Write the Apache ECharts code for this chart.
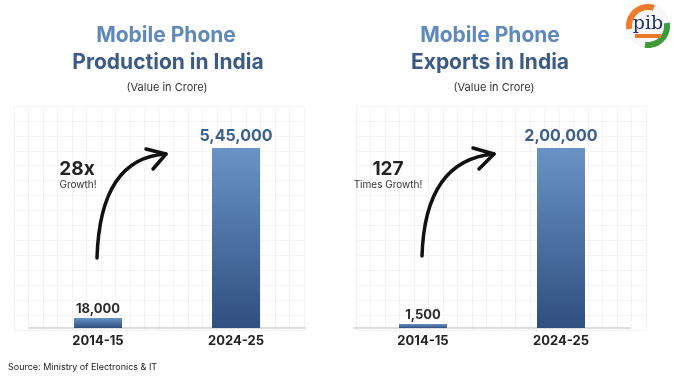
<!DOCTYPE html>
<html>
<head>
<meta charset="utf-8">
<script src="https://cdn.jsdelivr.net/npm/echarts@6/dist/echarts.min.js"></script>
<style>
  html, body { margin: 0; padding: 0; background: #fff; }
  #chart { width: 674px; height: 376px; }
</style>
</head>
<body>
<div id="chart"></div>
<script>
// data
var years = ['2014-15', '2024-25'];
var productionValues = [18000, 545000];
var exportValues = [1500, 200000];
var growthLabels = ['28x', '127'];
var growthNotes = ['Growth!', 'Times Growth!'];

var FONT = 'Inter, "Open Sans", sans-serif';
var TITLE_LIGHT = '#5f89ba';
var TITLE_DARK = '#3b5a86';

// indian digit grouping: 545000 -> 5,45,000
function indianFormat(n) {
    var s = String(n);
    if (s.length <= 3) return s;
    var last3 = s.slice(-3);
    var rest = s.slice(0, -3);
    rest = rest.replace(/\B(?=(\d{2})+(?!\d))/g, ',');
    return rest + ',' + last3;
}

var barColor = new echarts.graphic.LinearGradient(0, 0, 0, 1, [
    { offset: 0, color: '#6993c6' },
    { offset: 1, color: '#2f4f7f' }
]);

function barData(values) {
    return values.map(function (v, i) {
        var big = i === values.length - 1;
        return {
            value: v,
            label: {
                fontSize: big ? 16 : 13,
                color: big ? '#3d5f8e' : '#2b2b2b',
                distance: big ? 4 : 2
            }
        };
    });
}

function barSeries(idx, values, minH) {
    return {
        type: 'bar',
        xAxisIndex: idx,
        yAxisIndex: idx,
        barWidth: 48,
        barMinHeight: minH,
        data: barData(values),
        itemStyle: { color: barColor },
        label: {
            show: true,
            position: 'top',
            fontFamily: FONT,
            fontWeight: 'bold',
            formatter: function (p) { return indianFormat(p.value); }
        }
    };
}

function catAxis(idx) {
    return {
        type: 'category',
        gridIndex: idx,
        data: years,
        axisTick: { show: false },
        axisLine: { lineStyle: { color: '#d2d2d2', width: 1.5 } },
        axisLabel: {
            margin: 7,
            fontFamily: FONT,
            fontWeight: 'bold',
            fontSize: 13,
            color: '#222'
        }
    };
}

function valAxis(idx, max) {
    return {
        type: 'value',
        gridIndex: idx,
        min: 0,
        max: max,
        show: false
    };
}

// faint background squares
function bgAxis(idx, max) {
    return {
        type: 'value',
        gridIndex: idx,
        min: 0,
        max: max,
        interval: 1,
        axisLine: { show: false },
        axisTick: { show: false },
        axisLabel: { show: false },
        splitLine: { show: true, lineStyle: { color: '#f3f3f3', width: 1 } }
    };
}

function arrow(x0, y0, cx, cy, x1, y1, h1, h2) {
    return [
        {
            type: 'bezierCurve',
            z: 100,
            shape: { x1: x0, y1: y0, x2: x1, y2: y1, cpx1: cx, cpy1: cy },
            style: { stroke: '#111', lineWidth: 3.5, fill: null, lineCap: 'round' }
        },
        {
            type: 'polyline',
            z: 100,
            shape: { points: [h1, [x1, y1], h2] },
            style: { stroke: '#111', lineWidth: 3.5, fill: null, lineCap: 'round', lineJoin: 'round' }
        }
    ];
}

function text(x, y, str, size, weight, color, align) {
    return {
        type: 'text',
        z: 100,
        x: x,
        y: y,
        style: {
            text: str,
            fontFamily: FONT,
            fontSize: size,
            fontWeight: weight,
            fill: color,
            align: align || 'center',
            verticalAlign: 'middle'
        }
    };
}

var graphics = [
    text(166, 36, 'Mobile Phone', 21, 'bold', TITLE_LIGHT),
    text(168, 63, 'Production in India', 21, 'bold', TITLE_DARK),
    text(167, 88, '(Value in Crore)', 11, 'normal', '#333'),
    text(490, 36, 'Mobile Phone', 21, 'bold', TITLE_LIGHT),
    text(490, 63, 'Exports in India', 21, 'bold', TITLE_DARK),
    text(494, 88, '(Value in Crore)', 11, 'normal', '#333'),

    text(77, 169, growthLabels[0], 19, 'bold', '#222'),
    text(78, 185, growthNotes[0], 10, 'normal', '#333'),
    text(388, 169, growthLabels[1], 19, 'bold', '#222'),
    text(388, 185, growthNotes[1], 10, 'normal', '#333'),

    text(8, 367, 'Source: Ministry of Electronics & IT', 9, 'normal', '#222', 'left'),

    // pib logo
    {
        type: 'group',
        x: 648,
        y: 26,
        z: 100,
        children: [
            { type: 'circle', shape: { cx: 0, cy: 0, r: 22 }, style: { fill: '#f7f7f7' } },
            { type: 'arc', shape: { cx: 0, cy: 0, r: 19, startAngle: Math.PI * 0.95, endAngle: Math.PI * 1.6 },
              style: { stroke: '#f07b2a', lineWidth: 6, fill: null } },
            { type: 'arc', shape: { cx: 0, cy: 0, r: 19, startAngle: Math.PI * 1.95, endAngle: Math.PI * 2.55 },
              style: { stroke: '#3f9a3a', lineWidth: 6, fill: null } },
            { type: 'text', x: 0, y: -2, style: { text: 'pib', fontFamily: 'DejaVu Serif, serif', fontSize: 19,
              fill: '#1f2f6e', align: 'center', verticalAlign: 'middle' } },
            { type: 'rect', shape: { x: -13, y: 8, width: 26, height: 4 }, style: { fill: '#e8782b' } }
        ]
    }
];

graphics = graphics
    .concat(arrow(97, 258, 100, 158, 166, 154, [146, 149], [153, 169]))
    .concat(arrow(422, 256, 425, 160, 494, 154, [473, 148], [479, 169]));

var option = {
    backgroundColor: '#ffffff',
    animation: false,
    grid: [
        { left: 29, width: 276, top: 148, bottom: 48 },
        { left: 354, width: 276, top: 148, bottom: 48 },
        { left: 14, width: 290, top: 106, bottom: 46 },
        { left: 356, width: 290, top: 106, bottom: 46 }
    ],
    xAxis: [
        catAxis(0),
        catAxis(1),
        bgAxis(2, 20),
        bgAxis(3, 20)
    ],
    yAxis: [
        valAxis(0, productionValues[1]),
        valAxis(1, exportValues[1]),
        bgAxis(2, 15),
        bgAxis(3, 15)
    ],
    series: [
        barSeries(0, productionValues, 10),
        barSeries(1, exportValues, 4)
    ],
    graphic: graphics
};

var chart = echarts.init(document.getElementById('chart'), null, { renderer: 'canvas' });
chart.setOption(option);
</script>
</body>
</html>
